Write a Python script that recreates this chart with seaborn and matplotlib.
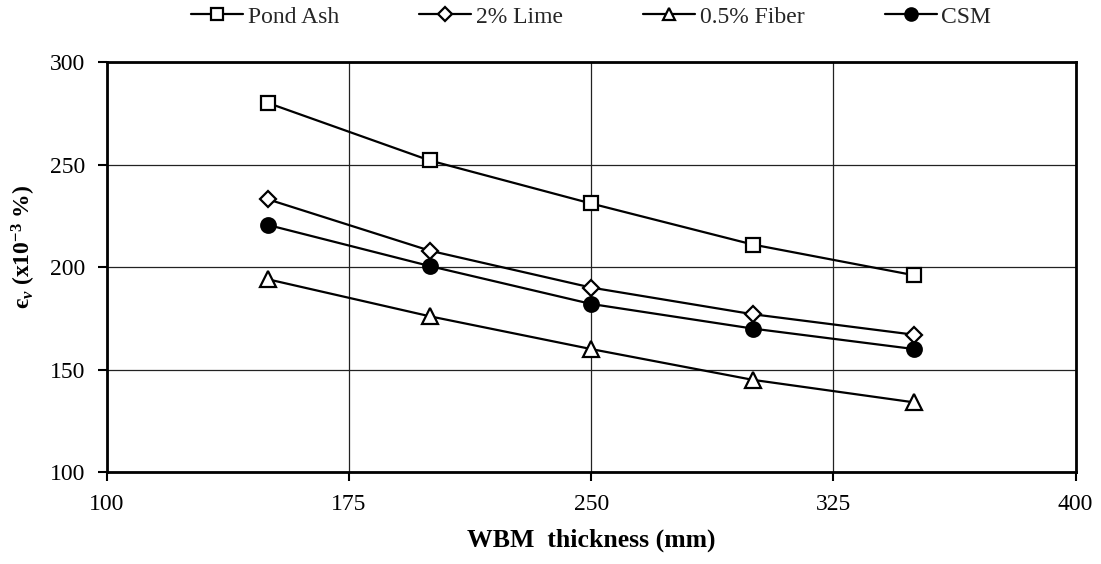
import numpy as np
import pandas as pd
import matplotlib
matplotlib.use("Agg")
import matplotlib.pyplot as plt
import seaborn as sns

thickness = [150, 200, 250, 300, 350]
pond_ash = [280, 252, 231, 211, 196]
lime_2 = [233, 208, 190, 177, 167]
fiber_05 = [194, 176, 160, 145, 134]
csm = [220.5, 200.5, 182, 170, 160]
series_names = ["Pond Ash", "2% Lime", "0.5% Fiber", "CSM"]
x_ticks = [100, 175, 250, 325, 400]
y_ticks = [100, 150, 200, 250, 300]

sns.set_theme(style="white")
plt.rcParams["font.family"] = ["Liberation Serif", "DejaVu Serif"]
plt.rcParams["mathtext.fontset"] = "custom"
plt.rcParams["mathtext.rm"] = "Liberation Serif:bold"
plt.rcParams["mathtext.bf"] = "Liberation Serif:bold"
plt.rcParams["mathtext.it"] = "Liberation Serif:italic:bold"

df = pd.DataFrame({
    "thickness": thickness * 4,
    "value": pond_ash + lime_2 + fiber_05 + csm,
    "series": sum([[n] * len(thickness) for n in series_names], []),
})

fig = plt.figure(figsize=(11.01, 5.64), dpi=100)
ax = fig.add_axes([0.0969, 0.163, 0.880, 0.727])

styles = {
    "Pond Ash": dict(marker="s", markersize=10.5, markerfacecolor="white"),
    "2% Lime": dict(marker="D", markersize=8.5, markerfacecolor="white"),
    "0.5% Fiber": dict(marker="^", markersize=11, markerfacecolor="white"),
    "CSM": dict(marker="o", markersize=10.5, markerfacecolor="black"),
}
for name in series_names:
    sub = df[df["series"] == name]
    st = styles[name]
    sns.lineplot(data=sub, x="thickness", y="value", ax=ax, color="black",
                 linewidth=1.6, marker=st["marker"], markersize=st["markersize"],
                 markerfacecolor=st["markerfacecolor"], markeredgecolor="black",
                 markeredgewidth=1.6, label=name, zorder=3)

ax.set_xlim(100, 400)
ax.set_ylim(100, 300)
ax.set_xticks(x_ticks)
ax.set_yticks(y_ticks)
ax.grid(True, color="#222222", linewidth=0.9)
for sp in ax.spines.values():
    sp.set_color("black")
    sp.set_linewidth(2.0)
ax.tick_params(axis="both", which="major", bottom=True, left=True, direction="out",
               length=6.5, width=1.5, color="black", labelsize=17, labelcolor="black")
ax.tick_params(axis="y", pad=9)
ax.tick_params(axis="x", pad=9)

ax.set_xlabel("WBM  thickness (mm)", fontsize=18.5, fontweight="bold", labelpad=10, color="black")
ax.set_ylabel("є$_{v}$ (x10$^{-3}$ %)", fontsize=17, fontweight="bold", color="black")
ax.yaxis.set_label_coords(-0.071, 0.55)

ax.legend(loc="center", bbox_to_anchor=(0.5, 1.11), ncol=4, frameon=False,
          fontsize=17, handlelength=2.2, handletextpad=0.2, columnspacing=3.4,
          markerscale=0.85)

fig.savefig("out.png", dpi=100)
